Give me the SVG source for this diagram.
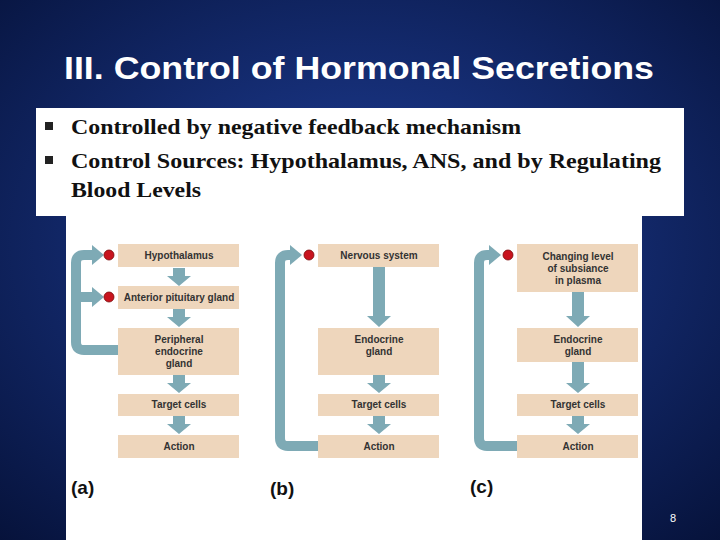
<svg xmlns="http://www.w3.org/2000/svg" width="720" height="540" viewBox="0 0 720 540">
<defs>
<radialGradient id="bg" cx="0.5" cy="0.45" r="0.75"><stop offset="0" stop-color="#1f3f9a"/><stop offset="1" stop-color="#06123a"/></radialGradient>
</defs>
<style>
.box{fill:#eed6bc}
.lb{font-family:"Liberation Sans",Arial,sans-serif;font-size:10px;font-weight:bold;fill:#333;text-anchor:middle}
.fb{fill:none;stroke:#7eaab5;stroke-width:10;stroke-linejoin:round}
.ar{fill:#7eaab5}
.dot{fill:#c8141e;stroke:#7a0a0a;stroke-width:0.8}
.bt{font-family:"Liberation Serif","Times New Roman",serif;font-size:22px;font-weight:bold;fill:#111}
.cap{font-family:"Liberation Sans",Arial,sans-serif;font-size:19px;font-weight:bold;fill:#111}
</style>
<rect width="720" height="540" fill="url(#bg)"/>
<text x="64" y="79" textLength="590" lengthAdjust="spacingAndGlyphs" font-family="Liberation Sans,Arial,sans-serif" font-size="32" font-weight="bold" fill="#fff">III. Control of Hormonal Secretions</text>
<rect x="36" y="108" width="648" height="108" fill="#fff"/>
<rect x="66" y="216" width="576" height="324" fill="#fff"/>
<rect x="45" y="122" width="8" height="8" fill="#222"/>
<rect x="45" y="156" width="8" height="8" fill="#222"/>
<text class="bt" x="71" y="134" textLength="450" lengthAdjust="spacingAndGlyphs">Controlled by negative feedback mechanism</text>
<text class="bt" x="71" y="168" textLength="590" lengthAdjust="spacingAndGlyphs">Control Sources: Hypothalamus, ANS, and by Regulating</text>
<text class="bt" x="71" y="197" textLength="130" lengthAdjust="spacingAndGlyphs">Blood Levels</text>
<g id="connectors">
<path class="fb" d="M118 350 H84 Q76 350 76 342 V263 Q76 255 84 255 H94"/>
<path class="fb" d="M76 297 H94"/>
<polygon class="ar" points="92,245 104,255 92,265"/>
<polygon class="ar" points="92,287 104,297 92,307"/>
<path class="fb" d="M318 446 H288 Q280 446 280 438 V263 Q280 255 288 255 H292"/>
<polygon class="ar" points="290,245 302,255 290,265"/>
<path class="fb" d="M517 446 H487 Q479 446 479 438 V263 Q479 255 487 255 H491"/>
<polygon class="ar" points="489,245 501,255 489,265"/>
<g class="ar">
<polygon points="173,268 185,268 185,276 191,276 179,286 167,276 173,276"/>
<polygon points="173,309 185,309 185,317 191,317 179,327 167,317 173,317"/>
<polygon points="173,375 185,375 185,383 191,383 179,393 167,383 173,383"/>
<polygon points="173,416 185,416 185,424 191,424 179,434 167,424 173,424"/>
<polygon points="373,267 385,267 385,316 391,316 379,327 367,316 373,316"/>
<polygon points="373,375 385,375 385,383 391,383 379,393 367,383 373,383"/>
<polygon points="373,416 385,416 385,424 391,424 379,434 367,424 373,424"/>
<polygon points="572,292 584,292 584,316 590,316 578,327 566,316 572,316"/>
<polygon points="572,362 584,362 584,383 590,383 578,393 566,383 572,383"/>
<polygon points="572,416 584,416 584,424 590,424 578,434 566,424 572,424"/>
</g>
</g>
<circle class="dot" cx="109" cy="255" r="5"/>
<circle class="dot" cx="109" cy="297" r="5"/>
<circle class="dot" cx="309" cy="255" r="5"/>
<circle class="dot" cx="508" cy="255" r="5"/>
<g id="a-hypo"><rect class="box" x="118" y="244" width="121" height="23"/><text class="lb" x="179" y="259">Hypothalamus</text></g>
<g id="a-ant"><rect class="box" x="118" y="286" width="121" height="23"/><text class="lb" x="179" y="301">Anterior pituitary gland</text></g>
<g id="a-per"><rect class="box" x="118" y="328" width="121" height="47"/><text class="lb" x="179" y="343">Peripheral</text><text class="lb" x="179" y="355">endocrine</text><text class="lb" x="179" y="367">gland</text></g>
<g id="a-tgt"><rect class="box" x="118" y="394" width="121" height="22"/><text class="lb" x="179" y="408">Target cells</text></g>
<g id="a-act"><rect class="box" x="118" y="435" width="121" height="23"/><text class="lb" x="179" y="450">Action</text></g>
<g id="b-nerv"><rect class="box" x="318" y="244" width="121" height="23"/><text class="lb" x="379" y="259">Nervous system</text></g>
<g id="b-endo"><rect class="box" x="318" y="328" width="121" height="47"/><text class="lb" x="379" y="343">Endocrine</text><text class="lb" x="379" y="355">gland</text></g>
<g id="b-tgt"><rect class="box" x="318" y="394" width="121" height="22"/><text class="lb" x="379" y="408">Target cells</text></g>
<g id="b-act"><rect class="box" x="318" y="435" width="121" height="23"/><text class="lb" x="379" y="450">Action</text></g>
<g id="c-chg"><rect class="box" x="517" y="244" width="121" height="48"/><text class="lb" x="578" y="260">Changing level</text><text class="lb" x="578" y="272">of subsiance</text><text class="lb" x="578" y="284">in plasma</text></g>
<g id="c-endo"><rect class="box" x="517" y="328" width="121" height="34"/><text class="lb" x="578" y="343">Endocrine</text><text class="lb" x="578" y="355">gland</text></g>
<g id="c-tgt"><rect class="box" x="517" y="394" width="121" height="22"/><text class="lb" x="578" y="408">Target cells</text></g>
<g id="c-act"><rect class="box" x="517" y="435" width="121" height="23"/><text class="lb" x="578" y="450">Action</text></g>
<text class="cap" x="71" y="494">(a)</text>
<text class="cap" x="270" y="495">(b)</text>
<text class="cap" x="470" y="493">(c)</text>
<text x="673" y="522" font-family="Liberation Sans,Arial,sans-serif" font-size="11" fill="#fff" text-anchor="middle">8</text>
</svg>
